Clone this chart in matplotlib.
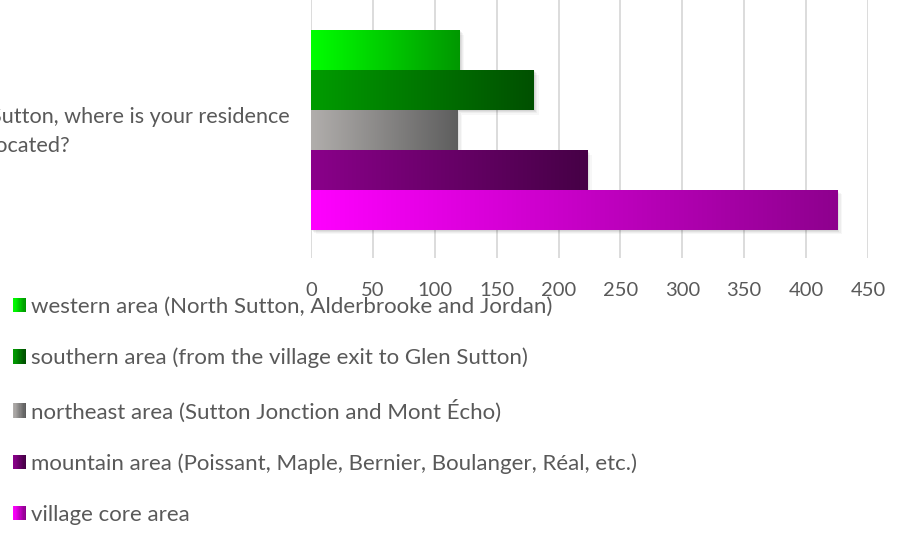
import numpy as np
import matplotlib
matplotlib.use("Agg")
import matplotlib.pyplot as plt
from matplotlib.patches import Patch, Rectangle
from matplotlib.legend_handler import HandlerBase
from matplotlib.colors import LinearSegmentedColormap
import matplotlib.patheffects as pe

# data
question = "Sutton, where is your residence\nlocated?"
series_names = [
    "western area (North Sutton, Alderbrooke and Jordan)",
    "southern area (from the village exit to Glen Sutton)",
    "northeast area (Sutton Jonction and Mont Écho)",
    "mountain area (Poissant, Maple, Bernier, Boulanger, Réal, etc.)",
    "village core area",
]
values = [120, 180, 118, 223, 425]
color_start = ["#00ff00", "#009c00", "#b1aeac", "#8a008a", "#ff00ff"]
color_end = ["#009800", "#005000", "#5e5e5e", "#460046", "#8e008e"]
xticks = list(range(0, 451, 50))

TEXT = "#595959"
plt.rcParams["font.family"] = ["Lato", "DejaVu Sans"]


class GradientHandler(HandlerBase):
    """legend swatch drawn as a small left-to-right gradient"""
    def __init__(self, c0, c1):
        super().__init__()
        self.cmap = LinearSegmentedColormap.from_list("", [c0, c1])

    def create_artists(self, legend, orig_handle, xdescent, ydescent,
                       width, height, fontsize, trans):
        n = 10
        arts = []
        for i in range(n):
            r = Rectangle((-xdescent + i * width / n, -ydescent), width / n + 0.05, height,
                          facecolor=self.cmap(i / (n - 1)), edgecolor="none",
                          transform=trans)
            arts.append(r)
        return arts


fig = plt.figure(figsize=(8.98, 5.37), dpi=100)
ax = fig.add_axes([311 / 898, 1 - 258 / 537, (868 - 311) / 898, 258 / 537])

ypos = np.arange(len(values))[::-1]
bars = ax.barh(ypos, values, height=1.0, color="white", zorder=2)

shadow = [pe.SimplePatchShadow(offset=(o, -o), shadow_rgbFace="k", alpha=a)
          for o, a in [(3.5, 0.03), (2.5, 0.04), (1.5, 0.05), (0.8, 0.05)]]
for bar, c0, c1 in zip(bars, color_start, color_end):
    bar.set_path_effects(shadow + [pe.Normal()])
    x0, y0 = bar.get_x(), bar.get_y()
    cmap = LinearSegmentedColormap.from_list("", [c0, c1])
    ax.imshow(np.linspace(0, 1, 256)[None, :], cmap=cmap, aspect="auto",
              extent=[x0, x0 + bar.get_width(), y0, y0 + bar.get_height()],
              interpolation="bilinear", zorder=3)

ax.set_xlim(0, 450)
ax.set_ylim(-1.214, 5.252)
ax.set_xticks(xticks)
# category label sits a touch above the bar group's centre in the reference
ax.set_yticks([ypos.mean() + 0.13])
ax.set_yticklabels([question], ha="right", multialignment="left")
ax.grid(axis="x", color="#d9d9d9", lw=1.3)
ax.set_axisbelow(True)
for s in ax.spines.values():
    s.set_visible(False)
ax.tick_params(axis="x", length=0, pad=17, labelsize=14.5, labelcolor=TEXT)
ax.tick_params(axis="y", length=0, pad=15, labelsize=15.6, labelcolor=TEXT)
for t in ax.get_yticklabels():
    t.set_linespacing(1.6)

handles = [Patch(label=n) for n in series_names]
hmap = {h: GradientHandler(c0, c1) for h, c0, c1 in zip(handles, color_start, color_end)}
fig.legend(handles=handles, handler_map=hmap, loc="upper left",
           bbox_to_anchor=(13 / 898, 1 - 297 / 537), frameon=False,
           borderpad=0, borderaxespad=0, fontsize=16, labelcolor=TEXT,
           handlelength=0.58, handleheight=0.62, handletextpad=0.22,
           labelspacing=1.39)

fig.savefig("out.png", dpi=100)
